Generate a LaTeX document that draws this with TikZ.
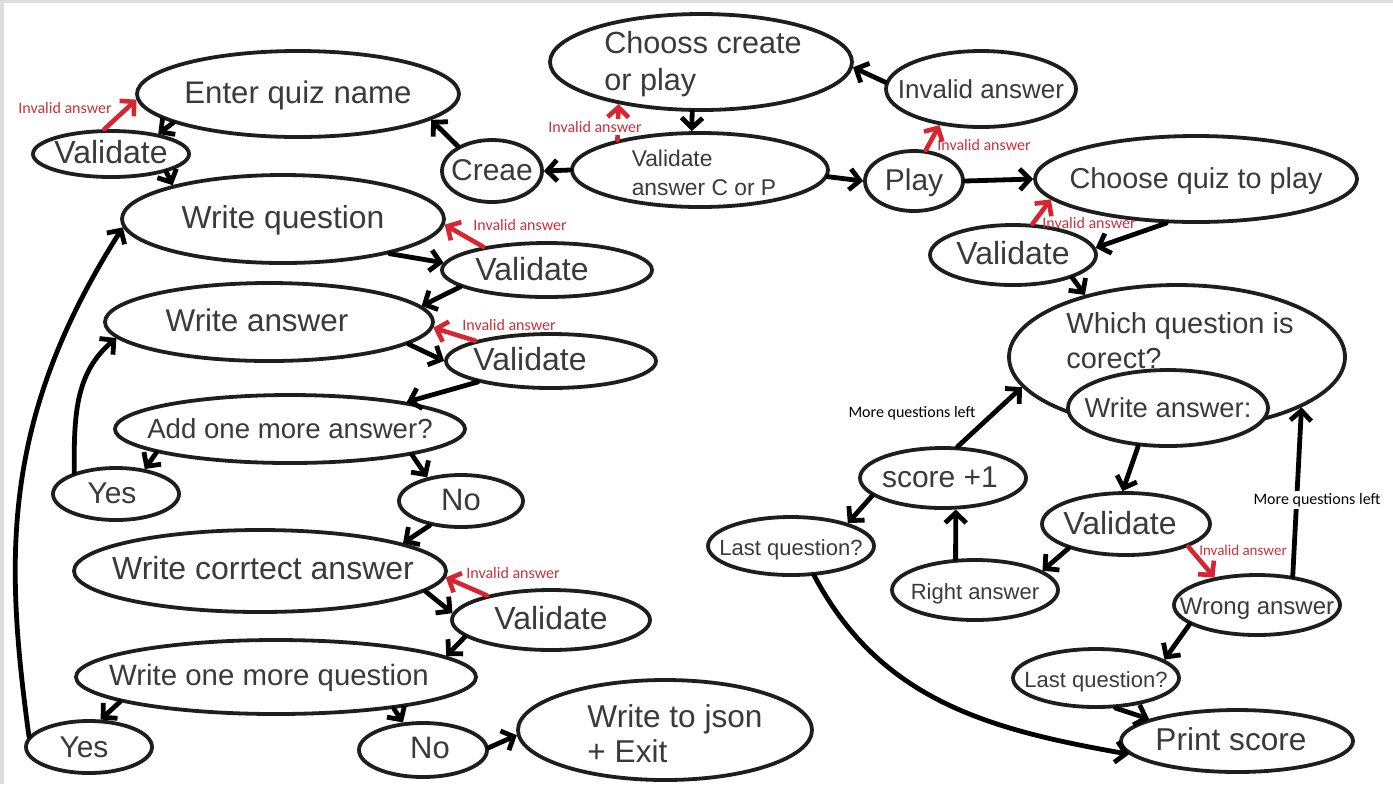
\documentclass[tikz,border=0pt]{standalone}
\usepackage{fontspec}
\setmainfont{Liberation Sans}
\newfontfamily\lblfont{Carlito}
\usetikzlibrary{shapes.geometric,arrows.meta}
\definecolor{outl}{RGB}{30,30,30}
\definecolor{txtc}{RGB}{58,58,58}
\definecolor{redc}{RGB}{214,38,50}
\definecolor{redt}{RGB}{200,50,60}
\definecolor{edgec}{RGB}{220,220,220}
\newcommand\ctext[1]{\makebox[0pt]{#1}}
\begin{document}
\begin{tikzpicture}[x=0.5pt,y=-0.5pt,
  ell/.style={ellipse, draw=outl, line width=1.9pt, fill=white, inner sep=0pt, text=txtc},
  fs/.style={font=\fontsize{#1}{#1}\selectfont, text height=0.95em, text depth=0pt},
  txt/.style={text=txtc, inner sep=0pt},
  conn/.style={draw=black, line width=2.4pt, line cap=round, -{Straight Barb[length=5pt,width=10.5pt]}},
  redarrow/.style={draw=redc, line width=2.3pt, line cap=round, -{Straight Barb[length=5pt,width=10.5pt]}},
  redlbl/.style={text=redt, font=\lblfont\fontsize{8}{8}\selectfont, inner sep=1pt},
  blklbl/.style={text=black, font=\lblfont\fontsize{8}{8}\selectfont, inner sep=1pt},
]
\useasboundingbox (0,0) rectangle (1393,784);
\fill[white] (0,0) rectangle (1393,784);
\fill[edgec] (0,0) rectangle (1393,3);
\fill[edgec] (0,0) rectangle (4,784);

% ---------- create branch ----------
\node[ell, minimum width=161pt, minimum height=43pt, fs=15.6] (eqn) at (298,94) {\ctext{Enter quiz name}};
\node[ell, minimum width=78pt, minimum height=23pt, fs=16] (v1) at (111,154) {\ctext{Validate}};
\node[ell, minimum width=50pt, minimum height=31pt, fs=15] (creae) at (492,171) {\ctext{Creae}};
\node[ell, minimum width=151pt, minimum height=48pt] (ccp) at (701,62) {};
\node[txt, align=left, font=\fontsize{15.3}{18.5}\selectfont] (ccpt) at (703,64) {Chooss create\\or play};
\node[ell, minimum width=128pt, minimum height=37pt] (vcp) at (700,170) {};
\node[txt, align=left, font=\fontsize{11.4}{14.2}\selectfont] (vcpt) at (704,173) {Validate\\answer C or P};
\node[ell, minimum width=161pt, minimum height=44pt, fs=15.9] (wq) at (283,219) {\ctext{Write question}};
\node[ell, minimum width=105pt, minimum height=27pt] (v2) at (547,270) {};
\node[txt, fs=16] (v2t) at (532,271) {Validate};
\node[ell, minimum width=164pt, minimum height=39pt] (wa) at (269,322) {};
\node[txt, fs=15.7] (wat) at (257,322) {Write answer};
\node[ell, minimum width=105pt, minimum height=27pt] (v3) at (551,361) {};
\node[txt, fs=16] (v3t) at (530,361) {Validate};
\node[ell, minimum width=175pt, minimum height=34pt, fs=13.8] (add) at (290,429) {\ctext{Add one more answer?}};
\node[ell, minimum width=63pt, minimum height=26pt] (yes1) at (116,494) {};
\node[txt, fs=15] (yes1t) at (112,494) {Yes};
\node[ell, minimum width=62pt, minimum height=26pt, fs=15.5] (no1) at (461,501) {\ctext{No}};
\node[ell, minimum width=186pt, minimum height=41pt] (wca) at (260,571) {};
\node[txt, fs=16] (wcat) at (263,570) {Write corrtect answer};
\node[ell, minimum width=99pt, minimum height=30pt, fs=16] (v4) at (551,620) {\ctext{Validate}};
\node[ell, minimum width=200pt, minimum height=37pt] (womq) at (276,677) {};
\node[txt, fs=14.7] (womqt) at (269,676) {Write one more question};
\node[ell, minimum width=63pt, minimum height=26pt] (yes2) at (89,747) {};
\node[txt, fs=15] (yes2t) at (84,748) {Yes};
\node[ell, minimum width=64pt, minimum height=27pt] (no2) at (423,750) {};
\node[txt, fs=15.5] (no2t) at (430,749) {No};
\node[ell, minimum width=147pt, minimum height=50pt] (wj) at (665,730) {};
\node[txt, align=left, font=\fontsize{15.8}{17.5}\selectfont] (wjt) at (675,734) {Write to json\\+ Exit};

% ---------- play branch ----------
\node[ell, minimum width=95pt, minimum height=38pt, fs=13] (invn) at (981,89) {\ctext{Invalid answer}};
\node[ell, minimum width=49pt, minimum height=30pt, fs=15] (play) at (914,181) {\ctext{Play}};
\node[ell, minimum width=161pt, minimum height=43pt, fs=14.4] (cqp) at (1196,179) {\ctext{Choose quiz to play}};
\node[ell, minimum width=83pt, minimum height=30pt, fs=16] (v5) at (1013,255) {\ctext{Validate}};
\node[ell, minimum width=168pt, minimum height=72pt] (wqc) at (1177,357) {};
\node[txt, align=left, font=\fontsize{14.5}{17.5}\selectfont] (wqct) at (1180,341) {Which question is\\corect?};
\node[ell, minimum width=100pt, minimum height=38pt, fs=13.7] (wa2) at (1168,408) {\ctext{Write answer:}};
\node[ell, minimum width=83pt, minimum height=30pt] (sc) at (943,478) {};
\node[txt, fs=15] (sct) at (940,478) {score +1};
\node[ell, minimum width=83pt, minimum height=29pt, fs=11] (lq1) at (791,546) {\ctext{Last question?}};
\node[ell, minimum width=83pt, minimum height=30pt, fs=11] (ra) at (975,590) {\ctext{Right answer}};
\node[ell, minimum width=84pt, minimum height=31pt] (v6) at (1126,524) {};
\node[txt, fs=16] (v6t) at (1120,525) {Validate};
\node[ell, minimum width=83pt, minimum height=30pt, fs=12] (wr) at (1257,605) {\ctext{Wrong answer}};
\node[ell, minimum width=83pt, minimum height=29pt, fs=11] (lq2) at (1096,678) {\ctext{Last question?}};
\node[ell, minimum width=116pt, minimum height=31pt] (ps) at (1237,741) {};
\node[txt, fs=15.8] (pst) at (1231,741) {Print score};

% ---------- black connectors ----------
\draw[conn] (eqn.193) -- (v1.23);
\draw[conn] (v1.-18) -- (wq.163);
\draw[conn] (creae.144) -- (eqn.-11.5);
\draw[conn] (ccp.-100) -- (vcp.102);
\draw[conn] (vcp.180) -- (creae.0);
\draw[conn] (vcp.-3) -- (play.180);
\draw[conn] (play.0) -- (cqp.180);
\draw[conn] (invn.176) -- (ccp.-2);
\draw[conn] (cqp.-124) -- (v5.5);
\draw[conn] (v5.-21) -- (wqc.146);
\draw[conn] (sc.65) -- (wqc.191);
\draw[conn] (wa2.-128) -- (v6.96);
\draw[conn] (wr.39) -- (wqc.-22.5);
\draw[conn] (v6.-157) -- (ra.16);
\draw[conn] (ra.122) -- (sc.-68);
\draw[conn] (sc.-166) -- (lq1.22);
\draw[conn] (lq1.-52) to[out=-62,in=170] (ps.-173);
\draw[conn] (wr.-164) -- (lq2.15.5);
\draw[conn] (lq2.-57.5) -- (ps.166);
\draw[conn] (wq.-18) -- (v2.176);
\draw[conn] (v2.-169.5) -- (wa.6);
\draw[conn] (wa.-9) -- (v3.180);
\draw[conn] (v3.-164) -- (add.13);
\draw[conn] (add.-170) -- (yes1.41);
\draw[conn] (yes1.153) to[out=90,in=-140] (wa.-174);
\draw[conn] (add.-12) -- (no1.145);
\draw[conn] (no1.-142) -- (wca.11);
\draw[conn] (wca.-7) -- (v4.176);
\draw[conn] (v4.-169) -- (womq.7);
\draw[conn] (womq.-171) -- (yes2.67);
\draw[conn] (yes2.170) .. controls (5,560) and (0,420) .. (wq.-177);
\draw[conn] (womq.-15) -- (no2.126);
\draw[conn] (no2.2) -- (wj.182);

% ---------- red "invalid answer" connectors ----------
\draw[redarrow] (v1.105) -- (eqn.182);
\draw[redarrow] (vcp.160) -- (ccp.-153);
\draw[redarrow] (play.69) -- (invn.-139);
\draw[redarrow] (v5.58) -- (cqp.188);
\draw[redarrow] (v2.160) -- (wq.-2.5);
\draw[redarrow] (v3.165) -- (wa.-2);
\draw[redarrow] (v4.159) -- (wca.-2);
\draw[redarrow] (v6.-20.5) -- (wr.147);

% ---------- labels ----------
\node[redlbl] (l1) at (65,108) {Invalid answer};
\node[redlbl, fill=white] (l2) at (595,127) {Invalid answer};
\node[redlbl] (l3) at (984,145) {Invalid answer};
\node[redlbl] (l4) at (1089,223) {Invalid answer};
\node[redlbl] (l5) at (520,225) {Invalid answer};
\node[redlbl] (l6) at (509,325) {Invalid answer};
\node[redlbl] (l7) at (513,573) {Invalid answer};
\node[redlbl, font=\lblfont\fontsize{7.5}{7.5}\selectfont] (l8) at (1243,550) {Invalid answer};
\node[blklbl] (m1) at (912,413) {More questions left};
\node[blklbl, fill=white] (m2) at (1317,500) {More questions left};
\end{tikzpicture}
\end{document}
